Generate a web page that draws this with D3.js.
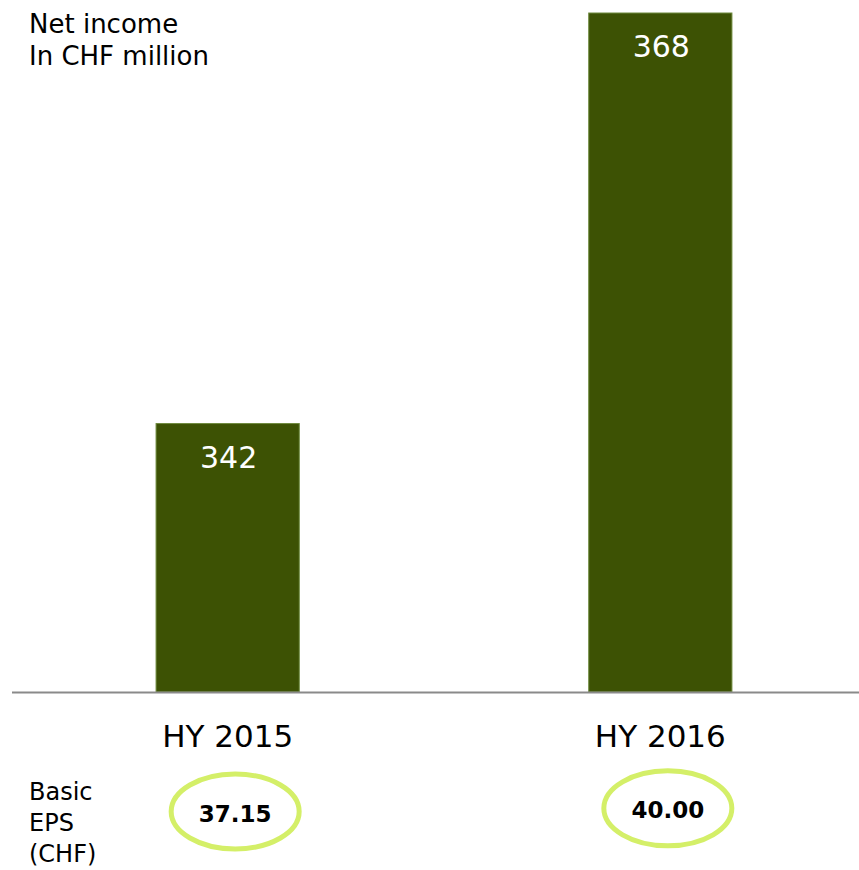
<!DOCTYPE html>
<html>
<head>
<meta charset="utf-8">
<script src="https://cdn.jsdelivr.net/npm/d3@7"></script>
<style>
  html, body { margin: 0; padding: 0; background: #fff; }
  svg { display: block; font-family: "DejaVu Sans", Verdana, sans-serif; }
</style>
</head>
<body>
<svg id="chart" width="859" height="870"></svg>
<script>
// Half-year net income (CHF million) and basic EPS (CHF)
const periods = ["HY 2015", "HY 2016"];
const netIncome = [342, 368];
const basicEps = ["37.15", "40.00"];
const titleLines = ["Net income", "In CHF million"];
const epsLabelLines = ["Basic", "EPS", "(CHF)"];

const W = 859, H = 870;
const baseY = 692, topY = 13;

const svg = d3.select("#chart");

const x = d3.scaleBand()
  .domain(periods)
  .range([12, 876])
  .paddingInner(0.669)
  .paddingOuter(0.333);

// Value axis is truncated: baseline sits at 325
const yMin = 325;
const y = d3.scaleLinear()
  .domain([yMin, 368])
  .range([baseY, topY]);

const data = periods.map((p, i) => ({ period: p, value: netIncome[i], eps: basicEps[i] }));

// Bars
svg.append("g").selectAll("rect")
  .data(data)
  .join("rect")
  .attr("x", d => x(d.period))
  .attr("y", d => y(d.value))
  .attr("width", x.bandwidth())
  .attr("height", d => y(yMin) - y(d.value))
  .attr("fill", "#3d5204")
  .attr("stroke", "#6e8a3e")
  .attr("stroke-width", 1);

// Value labels inside bars
svg.append("g").selectAll("text")
  .data(data)
  .join("text")
  .attr("x", d => x(d.period) + x.bandwidth() / 2 + 1)
  .attr("y", d => y(d.value) + 44)
  .attr("text-anchor", "middle")
  .attr("fill", "#ffffff")
  .attr("font-size", 30)
  .text(d => d.value);

// Baseline
svg.append("line")
  .attr("x1", 12).attr("x2", W)
  .attr("y1", baseY + 0.5).attr("y2", baseY + 0.5)
  .attr("stroke", "#8a8a8a")
  .attr("stroke-width", 2);

// Category axis labels
const xAxis = d3.axisBottom(x).tickSize(0).tickPadding(0);
const gx = svg.append("g")
  .attr("transform", `translate(0, ${baseY})`)
  .call(xAxis);
gx.select(".domain").remove();
gx.selectAll(".tick text")
  .attr("y", 55)
  .attr("dy", 0)
  .attr("font-size", 31)
  .attr("font-family", "DejaVu Sans, Verdana, sans-serif")
  .attr("fill", "#000");

// Title
svg.append("text")
  .attr("x", 29)
  .attr("font-size", 26)
  .attr("fill", "#000")
  .selectAll("tspan")
  .data(titleLines)
  .join("tspan")
  .attr("x", 29)
  .attr("y", (d, i) => 33 + i * 32)
  .text(d => d);

// EPS row label
svg.append("text")
  .attr("font-size", 24)
  .attr("fill", "#000")
  .selectAll("tspan")
  .data(epsLabelLines)
  .join("tspan")
  .attr("x", 29)
  .attr("y", (d, i) => 800 + i * 31)
  .text(d => d);

// EPS values in highlighted ellipses
const epsCy = [811.5, 808.3];
const epsG = svg.append("g").selectAll("g")
  .data(data)
  .join("g")
  .attr("transform", (d, i) => `translate(${x(d.period) + x.bandwidth() / 2 + 7.5}, ${epsCy[i]})`);

epsG.append("ellipse")
  .attr("rx", 64)
  .attr("ry", 37.5)
  .attr("fill", "none")
  .attr("stroke", "#d4ef68")
  .attr("stroke-width", 5);

epsG.append("text")
  .attr("text-anchor", "middle")
  .attr("y", 10)
  .attr("font-size", 23)
  .attr("font-weight", "bold")
  .attr("fill", "#000")
  .text(d => d.eps);
</script>
</body>
</html>
